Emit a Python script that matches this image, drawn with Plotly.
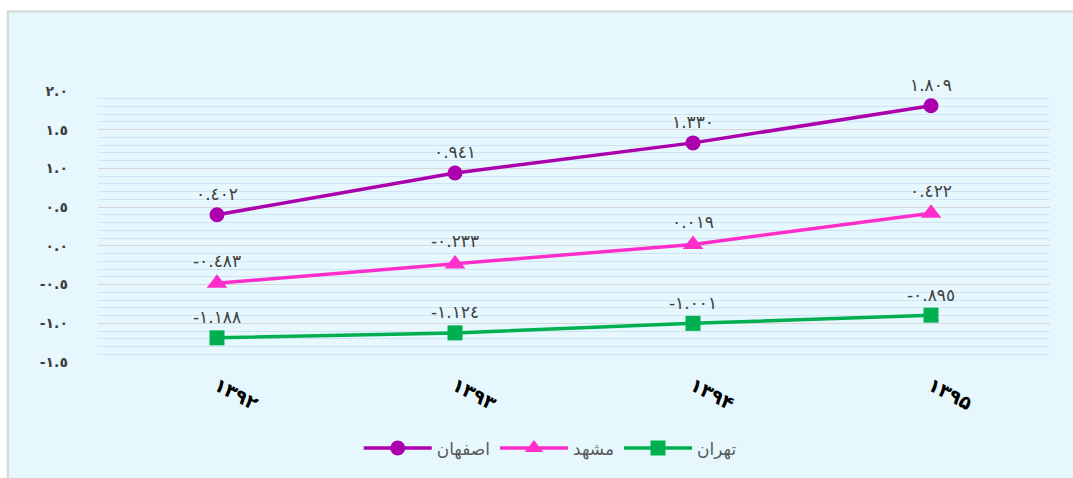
import plotly.graph_objects as go

categories = ["۱۳۹۲", "۱۳۹۳", "۱۳۹۴", "۱۳۹۵"]
isfahan = [0.402, 0.941, 1.330, 1.809]
mashhad = [-0.483, -0.233, 0.019, 0.422]
tehran = [-1.188, -1.124, -1.001, -0.895]
isfahan_labels = ["٠.٤٠٢", "٠.٩٤١", "١.٣٣٠", "١.٨٠٩"]
mashhad_labels = ["-٠.٤٨٣", "-٠.٢٣٣", "٠.٠١٩", "٠.٤٢٢"]
tehran_labels = ["-١.١٨٨", "-١.١٢٤", "-١.٠٠١", "-٠.٨٩٥"]
y_tickvals = [2.0, 1.5, 1.0, 0.5, 0.0, -0.5, -1.0, -1.5]
y_ticktext = ["٢.٠", "١.٥", "١.٠", "٠.٥", "٠.٠", "-٠.٥", "-١.٠", "-١.٥"]
series_names = ["اصفهان", "مشهد", "تهران"]

FONT = "DejaVu Sans"
colors = ["#AD00AD", "#FF2ECB", "#00B050"]
symbols = ["circle", "triangle-up", "square"]
sizes = [15, 18, 15]

fig = go.Figure()
for name, vals, labs, col, sym, sz in zip(series_names, [isfahan, mashhad, tehran],
                                          [isfahan_labels, mashhad_labels, tehran_labels],
                                          colors, symbols, sizes):
    fig.add_trace(go.Scatter(
        x=categories, y=vals, name=name, mode="lines+markers+text",
        text=labs, textposition="top center",
        textfont=dict(family=FONT, size=17, color="#404040"),
        line=dict(color=col, width=3.5),
        marker=dict(symbol=sym, size=sz, color=col),
        cliponaxis=False,
    ))

L, R, T, B = 98, 23, 91, 114
W, H = 1073, 478
pw = W - L - R
ph = H - T - B

fig.add_shape(type="rect", xref="paper", yref="paper", layer="below",
              x0=(8 - L) / pw, x1=(W + 10 - L) / pw,
              y0=(H - B - (H + 10)) / ph, y1=(H - B - 11) / ph,
              fillcolor="#E6F8FD", line=dict(color="#D9D9D9", width=2.5))

fig.update_layout(
    width=W, height=H,
    margin=dict(l=L, r=R, t=T, b=B),
    paper_bgcolor="white",
    plot_bgcolor="rgba(0,0,0,0)",
    font=dict(family=FONT),
    showlegend=True,
    legend=dict(orientation="h", x=0.475, xanchor="center", y=-0.319, yanchor="middle",
                font=dict(family=FONT, size=17, color="#595959"),
                bgcolor="rgba(0,0,0,0)", itemwidth=68),
    xaxis=dict(type="category", range=[-0.5, 3.5], tickangle=28, showgrid=False,
               showline=False, zeroline=False, ticks="", automargin=False,
               ticklabelstandoff=8,
               tickfont=dict(family=FONT, size=19, color="black", weight="bold")),
    yaxis=dict(range=[-1.5, 2.0], tickvals=y_tickvals, ticktext=y_ticktext,
               showgrid=True, gridcolor="#D8D8D8", gridwidth=1,
               minor=dict(dtick=0.1, tick0=0, showgrid=True, gridcolor="#CDE4F4", gridwidth=1),
               zeroline=False, showline=False, ticks="", automargin=False,
               ticklabelstandoff=29,
               tickfont=dict(family=FONT, size=14, color="#404040", weight="bold")),
)

fig.write_html("out.html", config={"displayModeBar": False},
               post_script="document.body.style.margin='0';document.body.style.padding='0';")
